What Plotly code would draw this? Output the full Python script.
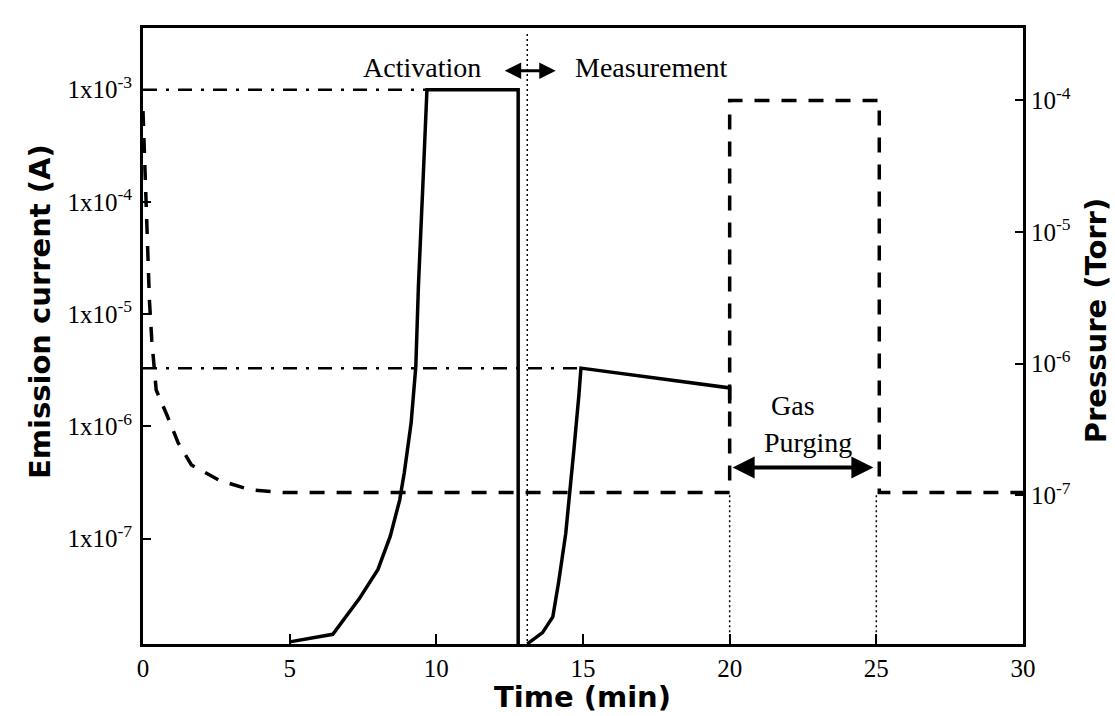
import plotly.graph_objects as go

# ---------------- data ----------------
# Emission current (left axis, A) - activation run
act_time = [5.0, 6.47, 7.37, 8.01, 8.43, 8.75, 8.91, 9.14, 9.30, 9.39, 9.55, 9.68, 12.79, 12.79]
act_current = [1.2e-8, 1.4e-8, 2.9e-8, 5.3e-8, 1.05e-7, 2.2e-7, 3.9e-7, 1.07e-6, 3.4e-6,
               1.8e-5, 1.6e-4, 1.0e-3, 1.0e-3, 1.1e-8]

# Emission current (left axis, A) - measurement run
meas_time = [13.1, 13.62, 13.97, 14.17, 14.41, 14.52, 14.69, 14.86, 14.93, 20.0, 20.0]
meas_current = [1.15e-8, 1.45e-8, 2.0e-8, 4.1e-8, 1.1e-7, 2.1e-7, 6.2e-7, 1.9e-6, 3.3e-6,
                2.2e-6, 1.6e-6]

# Pressure (right axis, Torr)
press_time = [0, 0.08, 0.15, 0.22, 0.30, 0.38, 0.45, 0.83, 1.2, 1.65, 2.6, 3.65, 4.8,
              20.0, 20.0, 25.1, 25.1, 30.0]
press_torr = [8.3e-5, 2.5e-5, 6.2e-6, 3.0e-6, 1.5e-6, 9.8e-7, 6.3e-7, 4.0e-7, 2.5e-7,
              1.7e-7, 1.3e-7, 1.1e-7, 1.05e-7, 1.05e-7, 1.0e-4, 1.0e-4, 1.05e-7, 1.05e-7]

# Dash-dot guide levels (left axis)
guide1_time = [0, 9.68]
guide1_level = [1.0e-3, 1.0e-3]
guide2_time = [0, 14.93]
guide2_level = [3.3e-6, 3.3e-6]

# Dotted phase markers
split_time = [13.1, 13.1]
split_level = [1.1e-8, 3.2e-3]
purge_start_time = [20.0, 20.0]
purge_end_time = [25.0, 25.0]
purge_marker_level = [7.0e-9, 1.05e-7]

# Ticks
x_ticks = [0, 5, 10, 15, 20, 25, 30]
left_tickvals = [1e-3, 1e-4, 1e-5, 1e-6, 1e-7]
left_ticktext = ["1x10<sup>-3</sup>", "1x10<sup>-4</sup>", "1x10<sup>-5</sup>",
                 "1x10<sup>-6</sup>", "1x10<sup>-7</sup>"]
right_tickvals = [1e-4, 1e-5, 1e-6, 1e-7]
right_ticktext = ["10<sup>-4</sup>", "10<sup>-5</sup>", "10<sup>-6</sup>", "10<sup>-7</sup>"]

# ---------------- figure ----------------
fig = go.Figure()

black = "#000000"

fig.add_trace(go.Scatter(x=guide1_time, y=guide1_level, mode="lines", yaxis="y",
                         line=dict(color=black, width=2.5, dash="14px,9px,3px,9px")))
fig.add_trace(go.Scatter(x=guide2_time, y=guide2_level, mode="lines", yaxis="y",
                         line=dict(color=black, width=2.5, dash="14px,9px,3px,9px")))
fig.add_trace(go.Scatter(x=split_time, y=split_level, mode="lines", yaxis="y",
                         line=dict(color=black, width=1.5, dash="2px,3px")))
fig.add_trace(go.Scatter(x=purge_start_time, y=purge_marker_level, mode="lines", yaxis="y2",
                         line=dict(color=black, width=1.5, dash="2px,3px")))
fig.add_trace(go.Scatter(x=purge_end_time, y=purge_marker_level, mode="lines", yaxis="y2",
                         line=dict(color=black, width=1.5, dash="2px,3px")))
fig.add_trace(go.Scatter(x=act_time, y=act_current, mode="lines", yaxis="y",
                         line=dict(color=black, width=3.5)))
fig.add_trace(go.Scatter(x=meas_time, y=meas_current, mode="lines", yaxis="y",
                         line=dict(color=black, width=3.5)))
fig.add_trace(go.Scatter(x=press_time, y=press_torr, mode="lines", yaxis="y2",
                         line=dict(color=black, width=3.5, dash="15px,12px")))

tick_font = dict(family="Liberation Serif", size=25, color=black)
ann_font = dict(family="Liberation Serif", size=28, color=black)
title_font = dict(family="DejaVu Sans", size=29, color=black)

fig.update_layout(
    width=1115, height=716,
    margin=dict(l=143, r=92, t=28, b=72),
    paper_bgcolor="white", plot_bgcolor="white",
    showlegend=False,
    xaxis=dict(range=[0, 30], tickvals=x_ticks, ticks="inside", ticklen=10, tickwidth=2,
               tickcolor=black, showline=True, linecolor=black, linewidth=3, mirror=True,
               showgrid=False, zeroline=False, tickfont=tick_font, ticklabelstandoff=0),
    yaxis=dict(type="log", range=[-7.94, -2.45], tickvals=left_tickvals, ticktext=left_ticktext,
               ticks="inside", ticklen=8, tickwidth=2, tickcolor=black, showline=True,
               linecolor=black, linewidth=3, showgrid=False, zeroline=False,
               tickfont=tick_font, ticklabelstandoff=3),
    yaxis2=dict(type="log", range=[-8.13, -3.45], overlaying="y", side="right",
                tickvals=right_tickvals, ticktext=right_ticktext, ticks="inside", ticklen=8,
                tickwidth=2, tickcolor=black, showline=True, linecolor=black, linewidth=3,
                showgrid=False, zeroline=False, tickfont=tick_font, ticklabelstandoff=0),
)

annotations = [
    dict(x=11.6, y=-2.80, xref="x", yref="y", text="Activation", showarrow=False,
         xanchor="right", yanchor="middle", font=ann_font),
    dict(x=14.66, y=-2.80, xref="x", yref="y", text="Measurement", showarrow=False,
         xanchor="left", yanchor="middle", font=ann_font),
    dict(x=14.07, y=-2.83, xref="x", yref="y", ax=12.28, ay=-2.83, axref="x", ayref="y",
         text="", showarrow=True, arrowside="end+start", arrowhead=2, arrowsize=1.1,
         arrowwidth=3, arrowcolor=black, standoff=0, startstandoff=0),
    dict(x=22.15, y=-6.32, xref="x", yref="y2", text="Gas", showarrow=False,
         xanchor="center", yanchor="middle", font=ann_font),
    dict(x=22.68, y=-6.60, xref="x", yref="y2", text="Purging", showarrow=False,
         xanchor="center", yanchor="middle", font=ann_font),
    dict(x=24.9, y=-6.79, xref="x", yref="y2", ax=20.05, ay=-6.79, axref="x", ayref="y2",
         text="", showarrow=True, arrowside="end+start", arrowhead=2, arrowsize=1.1,
         arrowwidth=4, arrowcolor=black, standoff=0, startstandoff=0),
    dict(x=-0.117, y=0.539, xref="paper", yref="paper", text="<b>Emission current (A)</b>",
         textangle=-90, showarrow=False, xanchor="center", yanchor="middle", font=title_font),
    dict(x=1.083, y=0.524, xref="paper", yref="paper", text="<b>Pressure (Torr)</b>",
         textangle=-90, showarrow=False, xanchor="center", yanchor="middle", font=title_font),
    dict(x=0.499, y=-0.086, xref="paper", yref="paper", text="<b>Time (min)</b>",
         showarrow=False, xanchor="center", yanchor="middle", font=title_font),
]
fig.update_layout(annotations=annotations)

fig.write_html("out.html")
